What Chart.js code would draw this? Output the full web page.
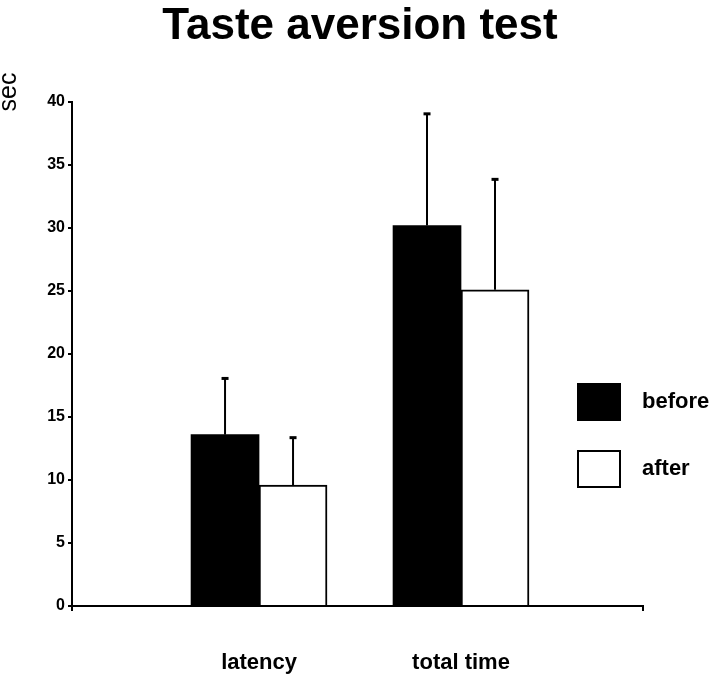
<!DOCTYPE html>
<html>
<head>
<meta charset="utf-8">
<script src="https://cdn.jsdelivr.net/npm/chart.js@4"></script>
<style>
html,body{margin:0;padding:0;background:#fff;}
#c{display:block;}
</style>
</head>
<body>
<canvas id="c" width="720" height="676"></canvas>
<script>
// ---- data ----
const chartTitle = 'Taste aversion test';
const yAxisTitle = 'sec';
const categories = ['latency', 'total time'];
const categoryPositions = [1, 2];
const seriesNames = ['before', 'after'];
const beforeValues = [13.6, 30.2];
const afterValues = [9.6, 25.1];
const beforeErrors = [4.5, 8.9];
const afterErrors = [3.8, 8.8];
const yTicks = [0, 5, 10, 15, 20, 25, 30, 35, 40];
const errors = [beforeErrors, afterErrors];

const FONT = '"Liberation Sans", Arial, Helvetica, sans-serif';

const extras = {
  id: 'extras',
  afterDatasetsDraw(chart) {
    const ctx = chart.ctx;
    const ys = chart.scales.y;
    errors.forEach((errs, di) => {
      const meta = chart.getDatasetMeta(di);
      meta.data.forEach((bar, i) => {
        const v = chart.data.datasets[di].data[i].y;
        const top = ys.getPixelForValue(v + errs[i]);
        ctx.save();
        ctx.strokeStyle = '#000';
        ctx.lineWidth = 2;
        ctx.beginPath();
        ctx.moveTo(bar.x, bar.y);
        ctx.lineTo(bar.x, top);
        ctx.stroke();
        ctx.lineWidth = 3;
        ctx.beginPath();
        ctx.moveTo(bar.x - 3.5, top + 0.5);
        ctx.lineTo(bar.x + 3.5, top + 0.5);
        ctx.stroke();
        ctx.restore();
      });
    });
  },
  afterDraw(chart) {
    const ctx = chart.ctx;
    ctx.save();
    // y axis title
    ctx.translate(16, 92);
    ctx.rotate(-Math.PI / 2);
    ctx.fillStyle = '#000';
    ctx.font = '25px ' + FONT;
    ctx.textAlign = 'center';
    ctx.textBaseline = 'alphabetic';
    ctx.fillText(yAxisTitle, 0, 0);
    ctx.restore();

    // legend
    const boxes = [{y: 383}, {y: 450}];
    chart.data.datasets.forEach((ds, i) => {
      ctx.save();
      const bx = 577, by = boxes[i].y, bw = 44, bh = 38;
      ctx.fillStyle = ds.backgroundColor;
      ctx.fillRect(bx, by, bw, bh);
      ctx.strokeStyle = '#000';
      ctx.lineWidth = 2;
      ctx.strokeRect(bx + 1, by + 1, bw - 2, bh - 2);
      ctx.fillStyle = '#000';
      ctx.font = 'bold 22px ' + FONT;
      ctx.textAlign = 'left';
      ctx.textBaseline = 'middle';
      ctx.fillText(ds.label, 642, by + bh / 2);
      ctx.restore();
    });
  }
};

new Chart(document.getElementById('c'), {
  type: 'bar',
  data: {
    datasets: [
      {
        label: seriesNames[0],
        data: categoryPositions.map((x, i) => ({x: x, y: beforeValues[i]})),
        backgroundColor: '#000',
        borderColor: '#000',
        borderWidth: 0,
        barThickness: 68
      },
      {
        label: seriesNames[1],
        data: categoryPositions.map((x, i) => ({x: x, y: afterValues[i]})),
        backgroundColor: '#fff',
        borderColor: '#000',
        borderWidth: 2,
        barThickness: 68
      }
    ]
  },
  options: {
    responsive: false,
    animation: false,
    devicePixelRatio: 1,
    layout: {padding: 0},
    plugins: {
      legend: {display: false},
      tooltip: {enabled: false},
      title: {
        display: true,
        text: chartTitle,
        color: '#000',
        font: {family: FONT, size: 44, weight: 'bold', lineHeight: 1.2},
        padding: {top: 0, bottom: 49.2}
      }
    },
    scales: {
      x: {
        type: 'linear',
        min: 0.074,
        max: 2.901,
        offset: false,
        z: 1,
        afterBuildTicks: s => { s.ticks = [s.min, ...categoryPositions, s.max].map(v => ({value: v})); },
        afterFit: s => { s.height = 70; },
        grid: {
          offset: false,
          drawOnChartArea: false,
          drawTicks: true,
          tickLength: 5,
          lineWidth: 2,
          color: c => (c.tick && categoryPositions.includes(c.tick.value)) ? 'rgba(0,0,0,0)' : '#000'
        },
        border: {display: true, color: '#000', width: 2},
        ticks: {
          autoSkip: false,
          maxRotation: 0,
          minRotation: 0,
          padding: 39,
          color: '#000',
          font: {family: FONT, size: 22, weight: 'bold'},
          callback: v => { const i = categoryPositions.indexOf(v); return i >= 0 ? categories[i] : ''; }
        }
      },
      y: {
        min: 0,
        max: 40,
        z: 1,
        afterBuildTicks: s => { s.ticks = yTicks.map(v => ({value: v})); },
        afterFit: s => { s.width = 72; },
        grid: {drawOnChartArea: false, drawTicks: true, tickLength: 4, lineWidth: 2, color: '#000'},
        border: {display: true, color: '#000', width: 2},
        ticks: {padding: 3, color: '#000', font: {family: FONT, size: 16, weight: 'bold'}}
      },
      yRight: {
        type: 'linear',
        position: 'right',
        min: 0,
        max: 40,
        afterFit: s => { s.width = 77; },
        grid: {display: false, drawTicks: false},
        border: {display: false},
        ticks: {display: false}
      }
    }
  },
  plugins: [extras]
});
</script>
</body>
</html>
